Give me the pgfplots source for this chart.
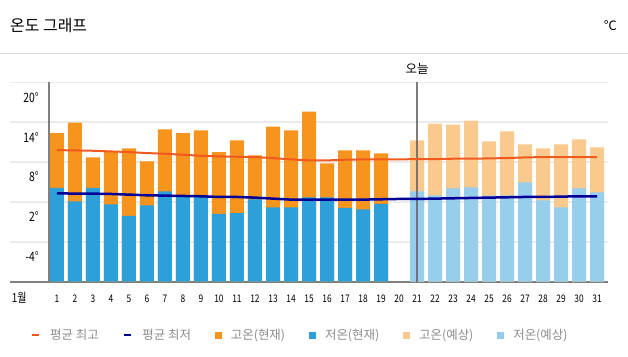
\documentclass[border=0pt]{standalone}
\usepackage{pgfplots}
\pgfplotsset{compat=1.18}
\usepackage{pgfplotstable}
\usepackage{fontspec}
\setmainfont{Noto Sans CJK KR}
\newfontfamily\narrowfont{Noto Sans CJK KR}[FakeStretch=0.8]
\definecolor{hiNow}{HTML}{F7941D}
\definecolor{loNow}{HTML}{2D9FD9}
\definecolor{hiFc}{HTML}{FAC98E}
\definecolor{loFc}{HTML}{96CEEC}
\definecolor{avgHi}{HTML}{F05A1E}
\definecolor{avgLo}{HTML}{000099}
\definecolor{gridc}{HTML}{EBEBEB}
\definecolor{axisc}{HTML}{808080}
\definecolor{legtext}{HTML}{8C8C8C}
\definecolor{sepc}{HTML}{D9D9D9}

% current observations (deg C)
\pgfplotstableread{
day high low
1 14.6 6.35
2 16.2 4.35
3 10.95 6.35
4 11.75 3.9
5 12.3 2.15
6 10.35 3.75
7 15.15 5.85
8 14.6 5.25
9 15.0 5.25
10 11.75 2.45
11 13.5 2.55
12 11.25 4.65
13 15.6 3.45
14 15.0 3.45
15 17.85 4.95
16 10.05 4.95
17 12.0 3.35
18 12.0 3.15
19 11.55 3.95
}\nowdata

% forecast (deg C)
\pgfplotstableread{
day high low
21 13.5 5.85
22 16.05 5.25
23 15.9 6.3
24 16.5 6.45
25 13.35 5.2
26 14.85 5.25
27 12.9 7.2
28 12.3 4.5
29 12.9 3.45
30 13.65 6.3
31 12.45 5.7
}\fcdata

% averages (deg C)
\pgfplotstableread{
day hi lo
1 12.05 5.55
2 12.0 5.5
3 11.95 5.5
4 11.85 5.45
5 11.75 5.35
6 11.6 5.25
7 11.5 5.2
8 11.35 5.15
9 11.2 5.1
10 11.1 5.0
11 11.05 5.0
12 11.0 4.9
13 10.85 4.75
14 10.65 4.6
15 10.5 4.6
16 10.5 4.6
17 10.6 4.6
18 10.65 4.6
19 10.65 4.65
20 10.65 4.7
21 10.7 4.7
22 10.7 4.75
23 10.75 4.8
24 10.75 4.85
25 10.8 4.9
26 10.85 4.95
27 10.95 5.0
28 11.0 5.0
29 11.0 5.05
30 11.0 5.1
31 11.0 5.1
}\avgdata

\begin{document}
\begin{tikzpicture}
\path[use as bounding box] (0,0) rectangle (628bp,357bp);
\draw[sepc, line width=1bp] (0,303bp) -- (628bp,303bp);
\node[anchor=west, inner sep=0pt] at (10bp,331bp) {\fontsize{16}{19}\selectfont 온도 그래프};
\node[anchor=east, inner sep=0pt] at (617bp,331bp) {\fontsize{13}{15}\selectfont ℃};
\begin{axis}[
  at={(10bp,75.3bp)}, anchor=south west,
  scale only axis, width=598bp, height=199.4bp,
  xmin=-1.61, xmax=31.61, ymin=0, ymax=30,
  clip=false,
  axis x line=bottom, axis y line=left,
  x axis line style={axisc, line width=2bp, -},
  y axis line style={draw=none},
  major tick length=0pt,
  xtick={-1.1,1,2,3,4,5,6,7,8,9,10,11,12,13,14,15,16,17,18,19,20,21,22,23,24,25,26,27,28,29,30,31},
  xticklabels={{\fontsize{12.5}{14}\selectfont 1월},1,2,3,4,5,6,7,8,9,10,11,12,13,14,15,16,17,18,19,20,21,22,23,24,25,26,27,28,29,30,31},
  xticklabel style={anchor=base, yshift=-20.5bp, inner sep=0pt, font=\narrowfont\fontsize{10.5}{12}\selectfont},
  ytick={3.75,9.75,15.75,21.75,27.75},
  yticklabels={-4°,2°,8°,14°,20°},
  yticklabel style={anchor=east, xshift=29bp, inner sep=0pt, font=\narrowfont\fontsize{13}{15}\selectfont},
  extra y ticks={6,12,18,24,30},
  extra y tick labels={},
  extra y tick style={grid=major},
  major grid style={gridc, line width=1.5bp},
  legend columns=6,
  legend style={at={(0.485,-0.267)}, anchor=center, draw=none, fill=none,
    font=\fontsize{12.5}{15}\selectfont, text=legtext,
    /tikz/every odd column/.append style={column sep=8bp},
    /tikz/every even column/.append style={column sep=21.5bp}},
  legend cell align=left,
]
\addlegendimage{legend image code/.code={\draw[avgHi, line width=2.2bp] (0bp,0bp) -- (7.5bp,0bp);}}
\addlegendentry{평균 최고}
\addlegendimage{legend image code/.code={\draw[avgLo, line width=2.6bp] (0bp,0bp) -- (7.5bp,0bp);}}
\addlegendentry{평균 최저}
\addlegendimage{legend image code/.code={\fill[hiNow] (0bp,-3bp) rectangle (6bp,3bp);}}
\addlegendentry{고온(현재)}
\addlegendimage{legend image code/.code={\fill[loNow] (0bp,-3bp) rectangle (6bp,3bp);}}
\addlegendentry{저온(현재)}
\addlegendimage{legend image code/.code={\fill[hiFc] (0bp,-3bp) rectangle (6bp,3bp);}}
\addlegendentry{고온(예상)}
\addlegendimage{legend image code/.code={\fill[loFc] (0bp,-3bp) rectangle (6bp,3bp);}}
\addlegendentry{저온(예상)}

\addplot[ybar, bar width=14bp, bar shift=0pt, fill=hiNow, draw=none, forget plot]
  table[x=day, y expr=\thisrow{high}+7.75] {\nowdata};
\addplot[ybar, bar width=14bp, bar shift=0pt, fill=loNow, draw=none, forget plot]
  table[x=day, y expr=\thisrow{low}+7.75] {\nowdata};
\addplot[ybar, bar width=14bp, bar shift=0pt, fill=hiFc, draw=none, forget plot]
  table[x=day, y expr=\thisrow{high}+7.75] {\fcdata};
\addplot[ybar, bar width=14bp, bar shift=0pt, fill=loFc, draw=none, forget plot]
  table[x=day, y expr=\thisrow{low}+7.75] {\fcdata};

\draw[axisc, line width=2bp] (axis cs:0.55,0) -- (axis cs:0.55,30);
\draw[black!60, opacity=0.85, line width=2bp] (axis cs:21,0) -- (axis cs:21,30);
\node[anchor=base, inner sep=0pt, yshift=8.5bp, font=\fontsize{12.5}{14}\selectfont] at (axis cs:21,30) {오늘};

\addplot[avgHi, line width=2bp, forget plot]
  table[x=day, y expr=\thisrow{hi}+7.75] {\avgdata};
\addplot[avgLo, line width=2.5bp, forget plot]
  table[x=day, y expr=\thisrow{lo}+7.75] {\avgdata};
\end{axis}
\end{tikzpicture}
\end{document}
